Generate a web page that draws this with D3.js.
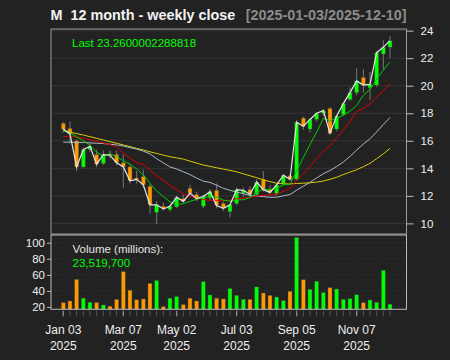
<!DOCTYPE html>
<html><head><meta charset="utf-8">
<script src="https://cdn.jsdelivr.net/npm/d3@7"></script>
<style>
body{margin:0;background:#222222;}
svg{display:block;font-family:"Liberation Sans",Arial,Helvetica,sans-serif;}
text{white-space:pre;}
</style>
</head><body>
<svg id="c" width="450" height="360"></svg>
<script>
// ---------- data ----------
const dates = ["2025-01-03","2025-01-10","2025-01-17","2025-01-24","2025-01-31","2025-02-07","2025-02-14","2025-02-21","2025-02-28","2025-03-07","2025-03-14","2025-03-21","2025-03-28","2025-04-04","2025-04-11","2025-04-17","2025-04-25","2025-05-02","2025-05-09","2025-05-16","2025-05-23","2025-05-30","2025-06-06","2025-06-13","2025-06-20","2025-06-27","2025-07-03","2025-07-11","2025-07-18","2025-07-25","2025-08-01","2025-08-08","2025-08-15","2025-08-22","2025-08-29","2025-09-05","2025-09-12","2025-09-19","2025-09-26","2025-10-03","2025-10-10","2025-10-17","2025-10-24","2025-10-31","2025-11-07","2025-11-14","2025-11-21","2025-11-28","2025-12-05","2025-12-10"];
const open  = [17.27,16.9,16.0,14.1,15.35,15.0,14.35,15.05,15.0,14.4,14.1,13.3,13.4,12.7,10.8,11.25,11.0,11.2,11.8,12.55,12.1,11.25,11.85,12.4,11.45,10.85,11.45,12.2,12.45,12.1,13.2,12.5,12.15,12.9,13.45,13.2,17.65,16.85,17.55,18.0,18.35,16.85,17.9,19.0,19.5,20.6,19.85,20.05,22.3,22.8];
const high  = [17.35,17.4,16.1,15.5,15.8,15.35,15.3,15.3,15.3,15.0,14.3,13.8,13.9,12.85,11.6,11.5,11.4,12.0,12.1,12.8,12.3,12.1,12.5,12.9,11.6,11.4,12.6,12.6,12.7,13.2,13.8,12.8,12.9,13.6,13.6,17.5,17.75,17.6,18.1,18.3,18.45,17.9,18.8,19.9,21.27,21.2,21.0,22.5,23.3,23.6];
const low   = [16.6,15.8,13.8,14.0,15.2,14.1,14.25,14.7,14.2,12.6,12.9,12.9,12.6,10.7,9.95,10.9,10.85,11.1,11.5,12.0,11.6,11.1,11.7,11.1,10.9,10.45,11.3,11.9,11.9,12.0,12.3,12.1,12.0,12.8,13.1,13.1,16.8,16.6,17.4,17.8,16.5,16.7,17.8,18.9,19.3,19.5,18.96,19.9,21.2,22.0];
const close = [16.85,16.5,14.1,15.35,15.6,14.3,15.0,14.95,14.4,14.1,13.1,13.2,12.8,11.35,11.35,11.05,11.25,11.9,11.6,12.2,11.8,11.95,12.3,11.3,11.1,11.35,12.45,12.4,12.1,13.0,12.45,12.25,12.8,13.5,13.2,17.35,17.05,17.55,18.0,18.2,16.55,17.8,18.7,19.5,20.35,20.05,20.1,22.4,22.8,23.26];
const volume = [25.4,27.5,54.4,31,26,25.5,22.5,21,29.5,64,41,29,30,49.4,53,20.5,31,33,23,31,27.5,51.5,35,31,30,43,34.5,29.5,29.5,45,37.4,34.5,32.4,28,39.5,106.6,54,42,52,38,44,42.4,29.5,30.4,35.3,25.4,28.7,25.8,65.6,23.5197];
// moving-average values before enough in-window history
const ma5Lead  = [16.75,16.55,16.3,16.0];
const ma10Lead = [16.3,16.35,16.25,16.18,16.08,15.95,15.85,15.72,15.55];
const ma20Lead = [15.9,15.9,15.88,15.88,15.85,15.82,15.8,15.75,15.7,15.62,15.5,15.4,15.25,15.05,14.7,14.4,14.1,13.95,13.75];
const maLong = [16.73,16.63,16.52,16.42,16.3,16.18,16.06,15.94,15.82,15.7,15.58,15.45,15.33,15.2,15.08,14.96,14.84,14.76,14.67,14.52,14.38,14.24,14.14,14.04,13.94,13.85,13.75,13.6,13.46,13.32,13.17,13.03,12.92,12.87,12.87,12.9,12.92,12.95,13.0,13.08,13.2,13.35,13.55,13.72,13.9,14.12,14.36,14.7,15.05,15.45];
const priceTicks = [10,12,14,16,18,20,22,24];
const volTicks = [20,40,60,80,100];
const xTickDates = ["2025-01-03","2025-03-07","2025-05-02","2025-07-03","2025-09-05","2025-11-07"];
const xTickLabels = ["Jan 03","Mar 07","May 02","Jul 03","Sep 05","Nov 07"];
const xTickYears = ["2025","2025","2025","2025","2025","2025"];
const titleText = "M  12 month - weekly close";
const rangeText = "[2025-01-03/2025-12-10]";
const lastText = "Last 23.2600002288818";
const volLabel = "Volume (millions):";
const volLast = "23,519,700";

// ---------- helpers ----------
function sma(n, lead){
  return close.map((c,i)=> i < n-1 ? lead[i] : d3.mean(close.slice(i-n+1,i+1)));
}
const ma5 = sma(5, ma5Lead), ma10 = sma(10, ma10Lead), ma20 = sma(20, ma20Lead);

// ---------- layout ----------
const plotL = 51, plotR = 406.5, mainT = 29, mainB = 234, volT = 235, volB = 309.3;
const UP = "#00ff00", DN = "#ff9900";

const svg = d3.select("#c");
svg.append("rect").attr("width",450).attr("height",360).attr("fill","#222222");

const x = d3.scalePoint().domain(dates).range([63.3, 390]);
const yP = d3.scaleLinear().domain([9.23, 24.12]).range([mainB, mainT]);
const yV = d3.scaleLinear().domain([17.1, 109.6]).range([volB, volT]);

// grid
svg.append("g").selectAll("line").data(priceTicks).join("line")
  .attr("x1",plotL).attr("x2",plotR).attr("y1",d=>yP(d)).attr("y2",d=>yP(d))
  .attr("stroke","#363636").attr("stroke-width",1);
svg.append("g").selectAll("line").data(volTicks).join("line")
  .attr("x1",plotL).attr("x2",plotR).attr("y1",d=>yV(d)).attr("y2",d=>yV(d))
  .attr("stroke","#3a3a3a").attr("stroke-width",1).attr("stroke-dasharray","1,2");

// candles
const idx = d3.range(dates.length);
const cw = 4;
const gC = svg.append("g");
gC.selectAll("line").data(idx).join("line")
  .attr("x1",i=>x(dates[i])).attr("x2",i=>x(dates[i]))
  .attr("y1",i=>yP(high[i])).attr("y2",i=>yP(low[i]))
  .attr("stroke","#777").attr("stroke-width",1);
gC.selectAll("rect").data(idx).join("rect")
  .attr("x",i=>x(dates[i])-cw/2).attr("width",cw)
  .attr("y",i=>yP(Math.max(open[i],close[i])))
  .attr("height",i=>Math.max(1,Math.abs(yP(open[i])-yP(close[i]))))
  .attr("fill",i=>close[i]>=open[i]?UP:DN)
  .attr("stroke","#444").attr("stroke-width",0.4);

// lines
const line = arr => d3.line().x((d,i)=>x(dates[i])).y(d=>yP(d))(arr);
svg.append("path").attr("d",line(maLong)).attr("fill","none").attr("stroke","#d8cc00").attr("stroke-width",1);
svg.append("path").attr("d",line(ma20)).attr("fill","none").attr("stroke","#a8b8c8").attr("stroke-width",1);
svg.append("path").attr("d",line(ma10)).attr("fill","none").attr("stroke","#dd0000").attr("stroke-width",1);
svg.append("path").attr("d",line(ma5)).attr("fill","none").attr("stroke","#00cc00").attr("stroke-width",1);
svg.append("path").attr("d",line(close)).attr("fill","none").attr("stroke","#e6e6e6").attr("stroke-width",1.2);

// volume bars
svg.append("g").selectAll("rect").data(idx).join("rect")
  .attr("x",i=>x(dates[i])-cw/2).attr("width",cw)
  .attr("y",i=>yV(volume[i])).attr("height",i=>volB-yV(volume[i]))
  .attr("fill",i=>close[i]>=open[i]?UP:DN)
  .attr("stroke","#444").attr("stroke-width",0.4);

// panel borders
svg.append("rect").attr("x",plotL).attr("y",mainT).attr("width",plotR-plotL).attr("height",mainB-mainT)
  .attr("fill","none").attr("stroke","#999").attr("stroke-width",1);
svg.append("rect").attr("x",plotL).attr("y",volT).attr("width",plotR-plotL).attr("height",volB-volT)
  .attr("fill","none").attr("stroke","#bbb").attr("stroke-width",1);

// price axis
const ax = svg.append("g").attr("transform",`translate(${plotR},0)`)
  .call(d3.axisRight(yP).tickValues(priceTicks).tickSize(7).tickPadding(7));
ax.select(".domain").remove();
ax.selectAll("line").attr("stroke","#bbb");
ax.selectAll("text").attr("fill","#eeeeee").attr("font-size",11.5).attr("font-family","Liberation Sans, Arial, sans-serif");

// volume axis
const av = svg.append("g").attr("transform",`translate(${plotL},0)`)
  .call(d3.axisLeft(yV).tickValues(volTicks).tickSize(4).tickPadding(2));
av.select(".domain").remove();
av.selectAll("line").attr("stroke","#bbb");
av.selectAll("text").attr("fill","#eeeeee").attr("font-size",11.5).attr("font-family","Liberation Sans, Arial, sans-serif");

// x axis ticks
svg.append("g").selectAll("line").data(dates).join("line")
  .attr("x1",d=>x(d)).attr("x2",d=>x(d)).attr("y1",volB+1.5).attr("y2",volB+7)
  .attr("stroke",d=>xTickDates.includes(d)?"#888":"#555").attr("stroke-width",d=>xTickDates.includes(d)?1.4:1);
const gX = svg.append("g").attr("fill","#eeeeee").attr("font-size",12).attr("text-anchor","middle");
gX.selectAll("text.m").data(xTickDates).join("text").attr("class","m")
  .attr("x",d=>x(d)).attr("y",334).text((d,i)=>xTickLabels[i]);
gX.selectAll("text.y").data(xTickDates).join("text").attr("class","y")
  .attr("x",d=>x(d)).attr("y",349.5).text((d,i)=>xTickYears[i]);

// texts
svg.append("text").attr("x",50.5).attr("y",19.5).attr("fill","#f2f2f2").attr("font-weight","bold")
  .attr("font-size",14.4).text(titleText);
svg.append("text").attr("x",406.5).attr("y",19.5).attr("fill","#8c8c8c").attr("font-weight","bold")
  .attr("font-size",14.4).attr("text-anchor","end").text(rangeText);
svg.append("text").attr("x",72).attr("y",46.5).attr("fill",UP).attr("font-size",11.5).text(lastText);
svg.append("text").attr("x",72.5).attr("y",252.5).attr("fill","#e6e6e6").attr("font-size",11.5).text(volLabel);
svg.append("text").attr("x",72.5).attr("y",266.5).attr("fill",UP).attr("font-size",11.5).text(volLast);
</script>
</body></html>
